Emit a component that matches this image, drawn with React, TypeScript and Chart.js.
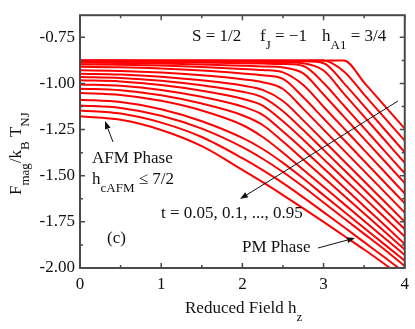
import React, { useEffect, useRef } from 'react';
import { Chart, registerables } from 'chart.js';

Chart.register(...registerables);

// Reduced field h_z sample positions
const fieldH = [0, 0.5, 1, 1.5, 2, 2.25, 2.5, 2.75, 3, 3.25, 3.5, 3.75, 4];

// Reduced temperatures t = 0.05 ... 0.95
const tLabels = ['0.05', '0.10', '0.15', '0.20', '0.25', '0.30', '0.35', '0.40', '0.45', '0.50',
  '0.55', '0.60', '0.65', '0.70', '0.75', '0.80', '0.85', '0.90', '0.95'];

// F_mag / k_B T_NJ for each t
const F_t005 = [-0.875, -0.875, -0.875, -0.875, -0.875, -0.875, -0.875, -0.875, -0.875, -0.875, -0.995, -1.12, -1.245];
const F_t010 = [-0.875, -0.875, -0.875, -0.875, -0.875, -0.875, -0.875, -0.875, -0.876, -0.935, -1.06, -1.185, -1.31];
const F_t015 = [-0.876, -0.876, -0.877, -0.877, -0.878, -0.879, -0.879, -0.88, -0.89, -0.998, -1.123, -1.248, -1.373];
const F_t020 = [-0.878, -0.878, -0.879, -0.88, -0.882, -0.883, -0.884, -0.89, -0.93, -1.055, -1.18, -1.305, -1.43];
const F_t025 = [-0.882, -0.8825, -0.884, -0.8865, -0.89, -0.892, -0.8945, -0.905, -0.997, -1.1195, -1.242, -1.365, -1.487];
const F_t030 = [-0.888, -0.889, -0.892, -0.897, -0.904, -0.908, -0.913, -0.945, -1.06, -1.18, -1.3, -1.42, -1.54];
const F_t035 = [-0.897, -0.8985, -0.903, -0.9105, -0.921, -0.927, -0.94, -1.0085, -1.126, -1.2435, -1.361, -1.4785, -1.596];
const F_t040 = [-0.91, -0.912, -0.919, -0.93, -0.946, -0.956, -0.975, -1.075, -1.19, -1.305, -1.42, -1.535, -1.65];
const F_t045 = [-0.929, -0.932, -0.941, -0.956, -0.977, -0.993, -1.03, -1.1375, -1.25, -1.3625, -1.475, -1.5875, -1.7];
const F_t050 = [-0.947, -0.951, -0.963, -0.983, -1.011, -1.035, -1.095, -1.2, -1.31, -1.42, -1.53, -1.64, -1.75];
const F_t055 = [-0.965, -0.97, -0.985, -1.01, -1.045, -1.075, -1.15, -1.2525, -1.36, -1.4675, -1.575, -1.6825, -1.79];
const F_t060 = [-0.983, -0.989, -1.008, -1.039, -1.083, -1.12, -1.205, -1.305, -1.41, -1.515, -1.62, -1.725, -1.83];
const F_t065 = [-1.005, -1.0125, -1.035, -1.0725, -1.125, -1.17, -1.26, -1.3575, -1.46, -1.5625, -1.665, -1.7675, -1.87];
const F_t070 = [-1.028, -1.037, -1.064, -1.109, -1.172, -1.225, -1.315, -1.4125, -1.51, -1.6075, -1.705, -1.8025, -1.9];
const F_t075 = [-1.052, -1.0625, -1.094, -1.1465, -1.225, -1.29, -1.375, -1.4675, -1.56, -1.6525, -1.745, -1.8375, -1.93];
const F_t080 = [-1.088, -1.101, -1.14, -1.205, -1.295, -1.355, -1.43, -1.515, -1.605, -1.694, -1.783, -1.872, -1.96];
const F_t085 = [-1.119, -1.133, -1.175, -1.245, -1.345, -1.408, -1.48, -1.56, -1.645, -1.73, -1.815, -1.9, -1.99];
const F_t090 = [-1.146, -1.163, -1.212, -1.29, -1.405, -1.47, -1.54, -1.617, -1.697, -1.778, -1.86, -1.942, -2.025];
const F_t095 = [-1.178, -1.197, -1.252, -1.34, -1.468, -1.535, -1.605, -1.677, -1.75, -1.825, -1.9, -1.978, -2.058];

const curves = [F_t005, F_t010, F_t015, F_t020, F_t025, F_t030, F_t035, F_t040, F_t045, F_t050,
  F_t055, F_t060, F_t065, F_t070, F_t075, F_t080, F_t085, F_t090, F_t095];

const xTicks = [0, 1, 2, 3, 4];
const xMinorTicks = [0.5, 1.5, 2.5, 3.5];
const yTicks = [-2.0, -1.75, -1.5, -1.25, -1.0, -0.75];
const yMinorTicks = [-1.875, -1.625, -1.375, -1.125, -0.875];

const FAMILY = '"Liberation Serif", "Times New Roman", serif';
const MAIN = `17px ${FAMILY}`;
const SUB = `13px ${FAMILY}`;

type Part = [string, boolean];

function rich(ctx: CanvasRenderingContext2D, parts: Part[], x: number, y: number) {
  let cx = x;
  for (const [txt, sub] of parts) {
    ctx.font = sub ? SUB : MAIN;
    ctx.fillText(txt, cx, sub ? y + 8 : y);
    cx += ctx.measureText(txt).width;
  }
}

function arrow(ctx: CanvasRenderingContext2D, x1: number, y1: number, x2: number, y2: number) {
  const ang = Math.atan2(y2 - y1, x2 - x1);
  const len = 8;
  const hw = 3;
  const bx = x2 - len * Math.cos(ang);
  const by = y2 - len * Math.sin(ang);
  ctx.beginPath();
  ctx.moveTo(x1, y1);
  ctx.lineTo(bx, by);
  ctx.stroke();
  ctx.beginPath();
  ctx.moveTo(x2, y2);
  ctx.lineTo(bx + hw * Math.sin(ang), by - hw * Math.cos(ang));
  ctx.lineTo(bx - hw * Math.sin(ang), by + hw * Math.cos(ang));
  ctx.closePath();
  ctx.fill();
}

const framePlugin = {
  id: 'framePlugin',
  afterDatasetsDraw(chart: any) {
    const { ctx, chartArea: a, scales } = chart;
    const x = scales.x;
    const y = scales.y;
    ctx.save();
    ctx.strokeStyle = '#4a4a4a';
    ctx.lineWidth = 1.5;
    ctx.beginPath();
    const xt = (v: number, len: number) => {
      const px = x.getPixelForValue(v);
      ctx.moveTo(px, a.bottom); ctx.lineTo(px, a.bottom - len);
      ctx.moveTo(px, a.top); ctx.lineTo(px, a.top + len);
    };
    const yt = (v: number, len: number) => {
      const py = y.getPixelForValue(v);
      ctx.moveTo(a.left, py); ctx.lineTo(a.left + len, py);
      ctx.moveTo(a.right, py); ctx.lineTo(a.right - len, py);
    };
    xTicks.forEach(v => xt(v, 5));
    xMinorTicks.forEach(v => xt(v, 3));
    yTicks.forEach(v => yt(v, 5));
    yMinorTicks.forEach(v => yt(v, 3));
    ctx.stroke();
    ctx.lineWidth = 2;
    ctx.strokeRect(a.left, a.top, a.right - a.left, a.bottom - a.top);
    ctx.restore();
  },
  afterDraw(chart: any) {
    const { ctx } = chart;
    ctx.save();
    ctx.fillStyle = '#111';
    ctx.strokeStyle = '#111';
    ctx.textBaseline = 'alphabetic';
    ctx.textAlign = 'left';
    // header
    rich(ctx, [['S = 1/2', false]], 192, 41);
    rich(ctx, [['f', false], ['J', true], [' = \u22121', false]], 260, 41);
    rich(ctx, [['h', false], ['A1', true], [' = 3/4', false]], 322, 41);
    // AFM phase
    rich(ctx, [['AFM Phase', false]], 92, 163);
    rich(ctx, [['h', false], ['cAFM', true], [' \u2264 7/2', false]], 92, 184);
    rich(ctx, [['t = 0.05, 0.1, ..., 0.95', false]], 161, 218);
    rich(ctx, [['(c)', false]], 107, 243);
    rich(ctx, [['PM Phase', false]], 242, 252);
    // x title
    rich(ctx, [['Reduced Field h', false], ['z', true]], 185, 313);
    // y title
    ctx.save();
    ctx.translate(21, 195);
    ctx.rotate(-Math.PI / 2);
    rich(ctx, [['F', false], ['mag', true], ['/k', false], ['B', true], [' T', false], ['NJ', true]], 0, 0);
    ctx.restore();
    // arrows
    ctx.lineWidth = 1;
    arrow(ctx, 113, 142, 105, 121);
    arrow(ctx, 398, 101, 240, 199);
    arrow(ctx, 318, 248, 355, 238);
    ctx.restore();
  },
};

export default function App() {
  const ref = useRef<HTMLCanvasElement | null>(null);
  useEffect(() => {
    if (!ref.current) return;
    const datasets = curves.map((c, i) => ({
      label: `t = ${tLabels[i]}`,
      data: fieldH.map((h, j) => ({ x: h, y: c[j] })),
      borderColor: '#ff0000',
      backgroundColor: '#ff0000',
      borderWidth: 2,
      pointRadius: 0,
      fill: false,
      cubicInterpolationMode: 'monotone' as const,
    }));
    const chart = new Chart(ref.current, {
      type: 'line',
      data: { datasets },
      options: {
        responsive: false,
        animation: false,
        events: [],
        layout: { padding: { top: 15, right: 8, left: 0, bottom: 0 } },
        plugins: { legend: { display: false }, tooltip: { enabled: false } },
        scales: {
          x: {
            type: 'linear',
            min: 0,
            max: 4,
            afterBuildTicks: (s: any) => { s.ticks = xTicks.map(v => ({ value: v })); },
            afterFit: (s: any) => { s.height = 61; },
            grid: { display: false, drawTicks: false },
            border: { display: false },
            ticks: {
              color: '#111',
              font: { family: FAMILY, size: 17 },
              padding: 6,
              maxRotation: 0,
              callback: (v: any) => String(v),
            },
          },
          y: {
            type: 'linear',
            min: -2.0,
            max: -0.63,
            afterBuildTicks: (s: any) => { s.ticks = yTicks.map(v => ({ value: v })); },
            afterFit: (s: any) => { s.width = 80; },
            grid: { display: false, drawTicks: false },
            border: { display: false },
            ticks: {
              color: '#111',
              font: { family: FAMILY, size: 17 },
              padding: 5,
              callback: (v: any) => Number(v).toFixed(2),
            },
          },
        },
      },
      plugins: [framePlugin],
    });
    return () => chart.destroy();
  }, []);
  return (
    <div style={{ position: 'absolute', left: 0, top: 0, width: 415, height: 329, background: '#fff' }}>
      <canvas ref={ref} width={415} height={329} />
    </div>
  );
}
